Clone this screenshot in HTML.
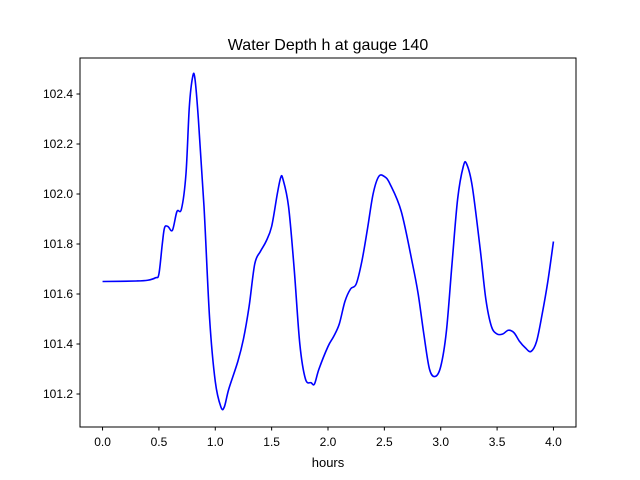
<!DOCTYPE html>
<html><head><meta charset="utf-8"><style>body{margin:0;background:#fff}svg{display:block;font-family:"Liberation Sans","DejaVu Sans",sans-serif}</style></head>
<body>
<svg id="chart" width="640" height="480">
<rect width="640" height="480" fill="#fff"/>
<text x="328" y="50" text-anchor="middle" font-size="16">Water Depth h at gauge 140</text>
<g id="axes"></g>
<rect x="80" y="58" width="496" height="369" fill="none" stroke="#000" stroke-width="1"/>
<text x="328" y="467" text-anchor="middle" font-size="13">hours</text>
</svg>
<script>
const hours=[0,0.3,0.4,0.47,0.5,0.53,0.55,0.58,0.62,0.66,0.7,0.74,0.77,0.8,0.82,0.85,0.9,0.95,1.0,1.05,1.08,1.12,1.2,1.25,1.3,1.35,1.4,1.45,1.5,1.55,1.58,1.6,1.65,1.7,1.75,1.8,1.85,1.88,1.92,2.0,2.05,2.1,2.15,2.2,2.25,2.3,2.35,2.4,2.45,2.5,2.55,2.65,2.75,2.8,2.85,2.9,2.95,3.0,3.05,3.1,3.15,3.2,3.23,3.28,3.35,3.4,3.45,3.5,3.55,3.6,3.65,3.7,3.75,3.8,3.85,3.9,3.95,4.0];
const depth=[101.65,101.652,101.655,101.665,101.68,101.8,101.865,101.87,101.855,101.93,101.94,102.08,102.35,102.47,102.46,102.3,101.95,101.5,101.25,101.148,101.148,101.22,101.33,101.42,101.55,101.72,101.77,101.81,101.87,102.0,102.065,102.06,101.95,101.7,101.4,101.26,101.245,101.24,101.3,101.39,101.43,101.48,101.57,101.62,101.64,101.73,101.86,102.0,102.07,102.07,102.04,101.93,101.72,101.6,101.44,101.3,101.27,101.31,101.45,101.72,101.98,102.11,102.12,102.03,101.78,101.58,101.47,101.44,101.44,101.455,101.445,101.41,101.385,101.37,101.41,101.52,101.65,101.81];
const xTicks=[0.0,0.5,1.0,1.5,2.0,2.5,3.0,3.5,4.0];
const yTicks=[101.2,101.4,101.6,101.8,102.0,102.2,102.4];
const X=v=>80+(v+0.2)/4.4*496;
const Y=v=>427-(v-101.068)/(102.544-101.068)*369;
const NS="http://www.w3.org/2000/svg";
const g=document.getElementById('axes');
function mk(t,a){const e=document.createElementNS(NS,t);for(const k in a)e.setAttribute(k,a[k]);g.appendChild(e);return e;}
xTicks.forEach(t=>{
 const l=mk('line',{x1:X(t),x2:X(t),y1:427,y2:430.5,stroke:'#000'});
 
 
 const s=mk('text',{x:X(t),y:446,'text-anchor':'middle','font-size':12});
 s.textContent=t.toFixed(1);
 
 
});
yTicks.forEach(t=>{
 const l=mk('line',{x1:76.5,x2:80,y1:Y(t),y2:Y(t),stroke:'#000'});
 
 
 const s=mk('text',{x:73,y:Y(t)+4,'text-anchor':'end','font-size':12});
 s.textContent=t.toFixed(1);
 
 
});
const pts=hours.map((h,i)=>[X(h),Y(depth[i])]);
let d='M'+pts[0][0]+','+pts[0][1];
for(let i=0;i<pts.length-1;i++){
 const p0=pts[Math.max(i-1,0)],p1=pts[i],p2=pts[i+1],p3=pts[Math.min(i+2,pts.length-1)];
 d+=' C'+(p1[0]+(p2[0]-p0[0])/6)+','+(p1[1]+(p2[1]-p0[1])/6)+' '+(p2[0]-(p3[0]-p1[0])/6)+','+(p2[1]-(p3[1]-p1[1])/6)+' '+p2[0]+','+p2[1];
}
const line=mk('path',{d:d,fill:'none',stroke:'#0000ff','stroke-width':1.6});


</script>
</body></html>
